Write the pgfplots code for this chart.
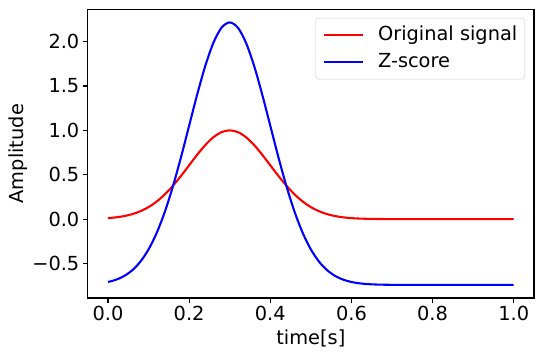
\documentclass[border=0pt]{standalone}
\usepackage{fontspec}
\setmainfont{DejaVu Sans}
\usepackage{pgfplots}
\usepackage{pgfplotstable}
\pgfplotsset{compat=1.18}
\pgfplotstableread{
t x z
0.00 0.01111 -0.7086
0.02 0.01984 -0.6828
0.04 0.03405 -0.6408
0.06 0.05613 -0.5755
0.08 0.08892 -0.4785
0.10 0.13534 -0.3412
0.12 0.19790 -0.1562
0.14 0.27804 0.0809
0.16 0.37531 0.3686
0.18 0.48675 0.6982
0.20 0.60653 1.0524
0.22 0.72615 1.4062
0.24 0.83527 1.7290
0.26 0.92312 1.9888
0.28 0.98020 2.1576
0.30 1.00000 2.2162
0.32 0.98020 2.1576
0.34 0.92312 1.9888
0.36 0.83527 1.7290
0.38 0.72615 1.4062
0.40 0.60653 1.0524
0.42 0.48675 0.6982
0.44 0.37531 0.3686
0.46 0.27804 0.0809
0.48 0.19790 -0.1562
0.50 0.13534 -0.3412
0.52 0.08892 -0.4785
0.54 0.05613 -0.5755
0.56 0.03405 -0.6408
0.58 0.01984 -0.6828
0.60 0.01111 -0.7086
0.62 0.00598 -0.7238
0.64 0.00309 -0.7324
0.66 0.00153 -0.7370
0.68 0.00073 -0.7393
0.70 0.00034 -0.7405
0.72 0.00015 -0.7411
0.74 0.00006 -0.7413
0.76 0.00002 -0.7414
0.78 0.00000 -0.7415
0.80 0.00000 -0.7415
0.82 0.00000 -0.7415
0.84 0.00000 -0.7415
0.86 0.00000 -0.7415
0.88 0.00000 -0.7415
0.90 0.00000 -0.7415
0.92 0.00000 -0.7415
0.94 0.00000 -0.7415
0.96 0.00000 -0.7415
0.98 0.00000 -0.7415
1.00 0.00000 -0.7415
}\datatable
\begin{document}
\begin{tikzpicture}
\begin{axis}[
  scale only axis,
  width=446.3bp, height=288.7bp,
  xmin=-0.05, xmax=1.05,
  ymin=-0.889, ymax=2.364,
  axis line style={line width=1.1bp},
  tick style={line width=1.1bp, black},
  tick align=outside,
  major tick length=4.86bp,
  xtick={0,0.2,0.4,0.6,0.8,1.0},
  xticklabels={0.0,0.2,0.4,0.6,0.8,1.0},
  ytick={-0.5,0,0.5,1,1.5,2},
  yticklabels={−0.5,0.0,0.5,1.0,1.5,2.0},
  xtick pos=bottom, ytick pos=left,
  font=\fontsize{19.44}{23}\selectfont,
  ticklabel style={font=\fontsize{19.44}{23}\selectfont},
  xlabel={time[s]}, ylabel={Amplitude},
  xlabel style={at={(axis description cs:0.5,0)}, anchor=base, yshift=-46bp},
  ylabel style={at={(axis description cs:0,0.5)}, anchor=base, rotate=0, yshift=63.7bp},
  legend style={at={(axis description cs:1,1)}, anchor=north east, xshift=-9bp, yshift=-8.7bp,
    draw=black!20, rounded corners=3bp, fill=white, fill opacity=0.8, text opacity=1,
    font=\fontsize{19.44}{23}\selectfont, row sep=7bp, column sep=14bp,
    inner xsep=7.5bp, inner ysep=7bp,
    nodes={inner sep=0pt, text height=15.7bp, text depth=4.3bp}},
  legend cell align=left,
  legend image code/.code={\draw[#1] (0bp,0bp) -- (39bp,0bp);},
]
\addplot[red, line width=2.08bp, smooth] table[x=t, y=x] {\datatable};
\addlegendentry{Original signal}
\addplot[blue, line width=2.08bp, smooth] table[x=t, y=z] {\datatable};
\addlegendentry{Z-score}
\end{axis}
\path ([xshift=-87.7bp,yshift=-61bp]current axis.south west) rectangle ([xshift=9bp,yshift=9.3bp]current axis.north east);
\end{tikzpicture}
\end{document}
